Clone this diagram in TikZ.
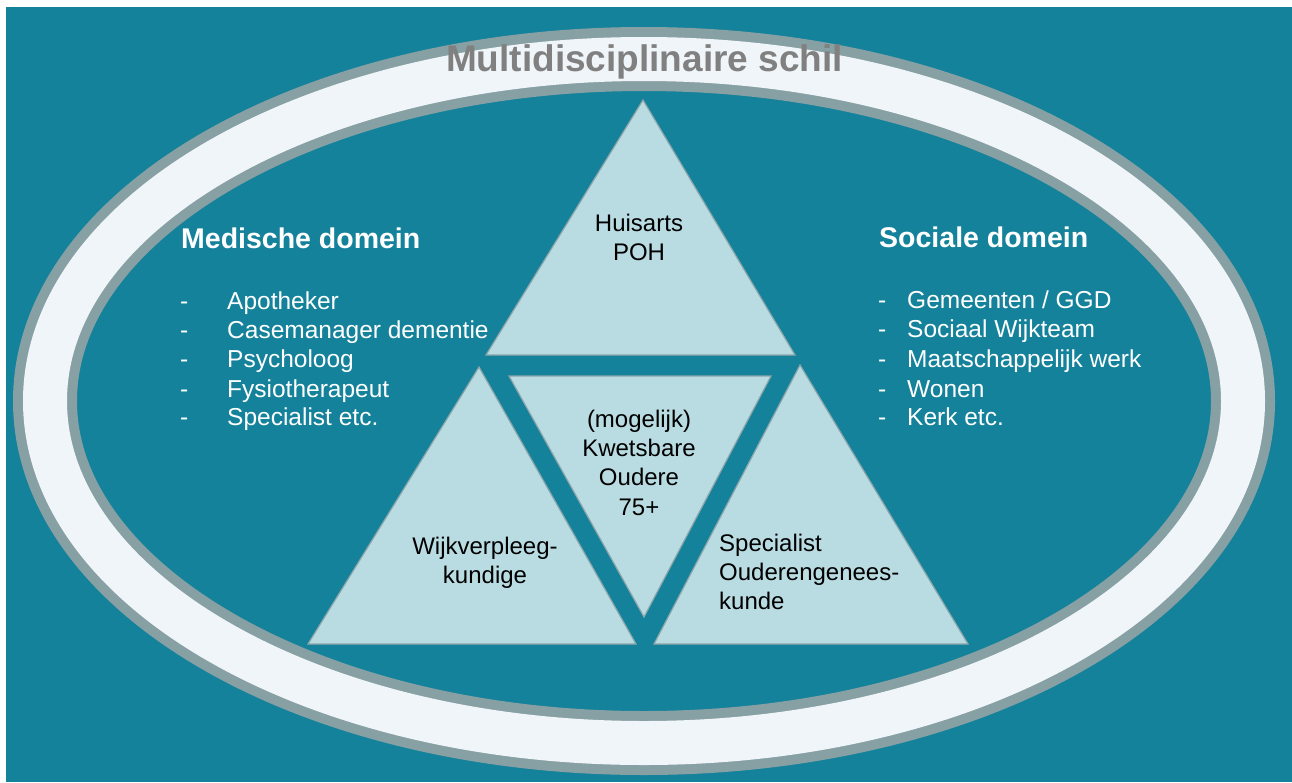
\documentclass[tikz,border=0pt]{standalone}
\usepackage{fontspec}
\setmainfont{Liberation Sans}
\definecolor{bgteal}{RGB}{21,130,155}
\definecolor{ringgray}{RGB}{135,160,164}
\definecolor{ringwhite}{RGB}{240,245,249}
\definecolor{trifill}{RGB}{185,220,226}
\definecolor{triedge}{RGB}{140,165,170}
\definecolor{titlegray}{RGB}{128,128,128}
\begin{document}
\begin{tikzpicture}[x=1pt,y=-1pt,
  tri/.style={fill=trifill,draw=triedge,line width=1.2pt,line join=miter},
  title/.style={anchor=base,text=titlegray,font=\fontsize{37}{44}\selectfont\bfseries,inner sep=0},
  head/.style={anchor=base west,text=white,font=\fontsize{28.5}{34}\selectfont\bfseries,inner sep=0},
  item/.style={anchor=base west,text=white,font=\fontsize{24.5}{29}\selectfont,inner sep=0},
  inner/.style={anchor=base,text=black,font=\fontsize{24}{29}\selectfont,inner sep=0},
  innerl/.style={anchor=base west,text=black,font=\fontsize{24}{29}\selectfont,inner sep=0}]
\useasboundingbox (0,0) rectangle (1292,782);
\fill[white] (0,0) rectangle (1292,782);
\fill[bgteal] (6,7) rectangle (1292,782);

% the shell ring: grey rim with a white band inside
\draw[ringgray,line width=64] (644,401) ellipse [x radius=599,y radius=342];
\draw[ringwhite,line width=44] (644,401) ellipse [x radius=599,y radius=342];
\node[title] (shell) at (644.5,71) {Multidisciplinaire schil};

% four triangles
\coordinate (hA) at (643,100); \coordinate (hL) at (486,355); \coordinate (hR) at (795,355);
\coordinate (wA) at (479,367); \coordinate (wL) at (308,644); \coordinate (wR) at (636,644);
\coordinate (cL) at (509,376); \coordinate (cR) at (771,376); \coordinate (cB) at (644,617);
\coordinate (sA) at (800,365); \coordinate (sL) at (654,644); \coordinate (sR) at (968,644);
\draw[tri] (hA) -- (hL) -- (hR) -- cycle;
\draw[tri] (wA) -- (wL) -- (wR) -- cycle;
\draw[tri] (cL) -- (cR) -- (cB) -- cycle;
\draw[tri] (sA) -- (sL) -- (sR) -- cycle;

% top triangle
\node[inner] (h1) at (639,231) {Huisarts};
\node[inner] (h2) at (639,260) {POH};
% centre triangle
\node[inner] (c1) at (639,427) {(mogelijk)};
\node[inner] (c2) at (639,456) {Kwetsbare};
\node[inner] (c3) at (639,485) {Oudere};
\node[inner] (c4) at (639,515) {75+};
% left triangle
\node[inner] (w1) at (485,554) {Wijkverpleeg-};
\node[inner] (w2) at (485,583) {kundige};
% right triangle
\node[innerl] (s1) at (719,551) {Specialist};
\node[innerl] (s2) at (719,580) {Ouderengenees-};
\node[innerl] (s3) at (719,609) {kunde};

% medical domain
\node[head] (med) at (181,248) {Medische domein};
\foreach \t/\y [count=\i] in {{Apotheker}/309,{Casemanager dementie}/338,{Psycholoog}/367,{Fysiotherapeut}/397,{Specialist etc.}/425}{
  \node[item] (md\i) at (180,\y) {-};
  \node[item] (mt\i) at (227,\y) {\t};
}
% social domain
\node[head] (soc) at (879,247) {Sociale domein};
\foreach \t/\y [count=\i] in {{Gemeenten / GGD}/308,{Sociaal Wijkteam}/337,{Maatschappelijk werk}/367,{Wonen}/397,{Kerk etc.}/425}{
  \node[item] (sd\i) at (878,\y) {-};
  \node[item] (st\i) at (907,\y) {\t};
}
\end{tikzpicture}
\end{document}
